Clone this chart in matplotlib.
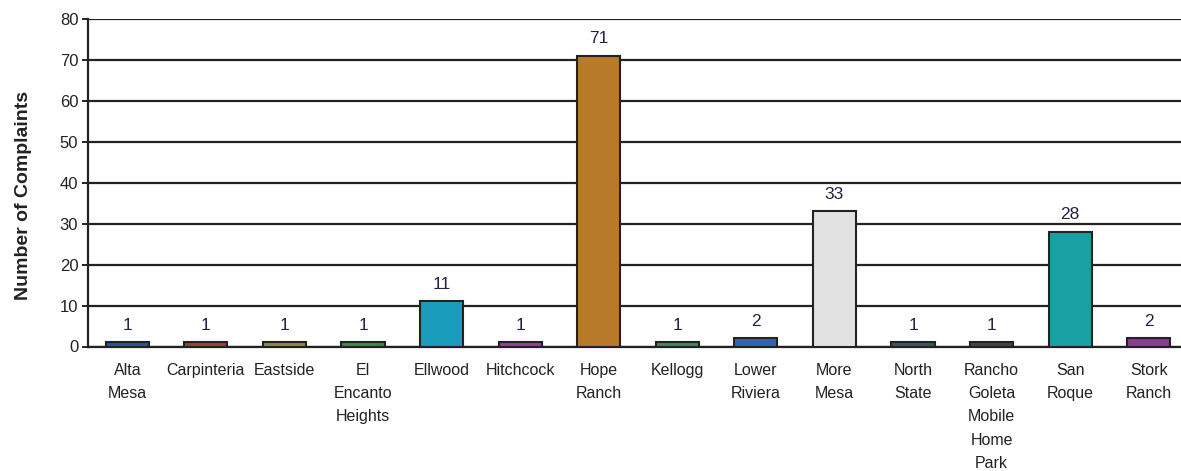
import matplotlib
matplotlib.use("Agg")
import matplotlib.pyplot as plt

plt.rcParams["font.family"] = ["Liberation Sans", "DejaVu Sans"]

categories = ["Alta\nMesa", "Carpinteria", "Eastside", "El\nEncanto\nHeights", "Ellwood",
              "Hitchcock", "Hope\nRanch", "Kellogg", "Lower\nRiviera", "More\nMesa",
              "North\nState", "Rancho\nGoleta\nMobile\nHome\nPark", "San\nRoque", "Stork\nRanch"]
complaints = [1, 1, 1, 1, 11, 1, 71, 1, 2, 33, 1, 1, 28, 2]
colors = ["#2c52a0", "#a83a3a", "#8c8c3c", "#2c9050", "#1a9cbc", "#9c3c9c", "#b8792a",
          "#3a8c5c", "#2a66b8", "#e2e2e2", "#3c5858", "#444444", "#18a0a4", "#8c3c8c"]
yticks = [0, 10, 20, 30, 40, 50, 60, 70, 80]

W, H = 1181, 471
fig = plt.figure(figsize=(W / 100, H / 100), dpi=100)
left, right, top, bottom = 88, 1188, 19, 346.5
ax = fig.add_axes([left / W, 1 - bottom / H, (right - left) / W, (bottom - top) / H])

x = list(range(len(categories)))
ax.bar(x, complaints, width=0.55, color=colors, edgecolor="#222222", linewidth=1.5, zorder=3)
ax.set_xlim(-0.5, len(categories) - 0.5)
ax.set_ylim(0, 80)
ax.set_yticks(yticks)
ax.yaxis.grid(True, color="#222222", linewidth=1.6, zorder=0)
ax.set_axisbelow(True)
for s in ["top", "right"]:
    ax.spines[s].set_visible(False)
for s in ["left", "bottom"]:
    ax.spines[s].set_linewidth(1.6)
    ax.spines[s].set_color("#222222")

ax.set_xticks(x)
ax.set_xticklabels(categories, fontsize=11.5, linespacing=1.68, va="top", color="#222222")
ax.tick_params(axis="x", length=0, pad=12)
ax.tick_params(axis="y", length=4, width=1.2, labelsize=12, pad=3, labelcolor="#222222")
ax.set_ylabel("Number of Complaints", fontsize=14, fontweight="bold", color="#222222")
ax.yaxis.set_label_coords(-0.051, 0.46)

for xi, v in zip(x, complaints):
    ax.text(xi, v + 4.2, str(v), ha="center", va="center", fontsize=12.5, color="#222244")

fig.savefig("out.png", dpi=100)
